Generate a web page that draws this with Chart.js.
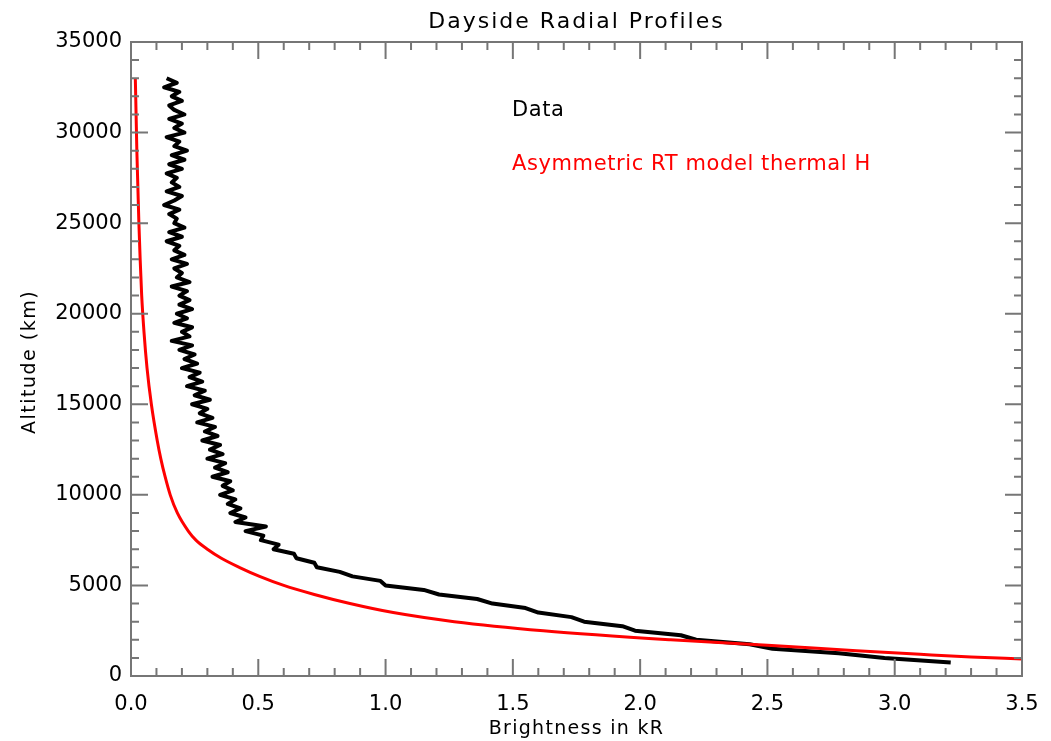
<!DOCTYPE html>
<html>
<head>
<meta charset="utf-8">
<script src="https://cdn.jsdelivr.net/npm/chart.js@4"></script>
<style>
  html, body { margin: 0; padding: 0; background: #fff; }
  #wrap { width: 1051px; height: 741px; }
</style>
</head>
<body>
<div id="wrap"><canvas id="myChart" width="1051" height="741"></canvas></div>
<script>
// Data profile (altitude in km, brightness in kR)
const dataAltitude = [33000,32750,32500,32250,32000,31750,31500,31250,31000,30750,
  30500,30250,30000,29750,29500,29250,29000,28750,28500,28250,
  28000,27750,27500,27250,27000,26750,26500,26250,26000,25750,
  25500,25250,25000,24750,24500,24250,24000,23750,23500,23250,
  23000,22750,22500,22250,22000,21750,21500,21250,21000,20750,
  20500,20250,20000,19750,19500,19250,19000,18750,18500,18250,
  18000,17750,17500,17250,17000,16750,16500,16250,16000,15750,
  15500,15250,15000,14750,14500,14250,14000,13750,13500,13250,
  13000,12750,12500,12250,12000,11750,11500,11250,11000,10750,
  10500,10250,10000,9750,9500,9250,9000,8750,8500,8250,
  8000,7750,7500,7250,7000,6750,6500,6250,6000,5750,
  5500,5250,5000,4750,4500,4250,4000,3750,3500,3250,
  3000,2750,2500,2250,2000,1750,1500,1250,1000,750];
const dataBrightness = [0.14,0.18,0.13,0.19,0.16,0.20,0.15,0.17,0.21,0.15,
  0.20,0.17,0.21,0.14,0.19,0.17,0.22,0.16,0.21,0.15,
  0.20,0.14,0.18,0.16,0.19,0.14,0.20,0.17,0.13,0.19,
  0.15,0.18,0.17,0.21,0.15,0.20,0.14,0.19,0.17,0.21,
  0.16,0.22,0.17,0.20,0.18,0.23,0.16,0.22,0.19,0.23,
  0.19,0.24,0.18,0.22,0.17,0.24,0.20,0.23,0.16,0.24,
  0.19,0.25,0.21,0.26,0.20,0.27,0.23,0.28,0.22,0.29,
  0.25,0.31,0.24,0.30,0.27,0.32,0.26,0.33,0.29,0.34,
  0.28,0.35,0.31,0.36,0.30,0.37,0.33,0.38,0.32,0.39,
  0.36,0.40,0.35,0.41,0.38,0.43,0.39,0.45,0.41,0.53,
  0.45,0.52,0.51,0.58,0.56,0.64,0.65,0.72,0.73,0.82,
  0.87,0.98,1.00,1.15,1.21,1.36,1.42,1.55,1.60,1.73,
  1.78,1.93,1.98,2.16,2.22,2.43,2.52,2.78,2.96,3.22];

// Asymmetric RT model thermal H
const modelAltitude = [33000,31000,29000,27000,25000,23000,21000,19000,17000,15000,
  13000,12000,11000,10000,9000,8000,7500,7000,6500,6000,
  5500,5000,4500,4000,3500,3000,2500,2000,1700,1400,
  1200,1050,940];
const modelBrightness = [0.017,0.020,0.023,0.027,0.031,0.036,0.042,0.051,0.063,0.080,
  0.103,0.117,0.134,0.154,0.182,0.225,0.255,0.300,0.355,0.425,
  0.505,0.600,0.72,0.86,1.03,1.27,1.62,2.12,2.50,2.85,
  3.10,3.30,3.50];

const seriesNames = ["Data", "Asymmetric RT model thermal H"];
const xTickLabels = ["0.0","0.5","1.0","1.5","2.0","2.5","3.0","3.5"];
const yTickLabels = ["0","5000","10000","15000","20000","25000","30000","35000"];

const FONT = "'DejaVu Sans'";
const AXIS_GREY = "#767676";

// frame + inward ticks on all four sides, IDL style
const frameTicks = {
  id: "frameTicks",
  afterDatasetsDraw(chart) {
    const ctx = chart.ctx, a = chart.chartArea;
    const xs = chart.scales.x, ys = chart.scales.y;
    ctx.save();
    ctx.strokeStyle = AXIS_GREY;
    ctx.lineWidth = 2;
    ctx.strokeRect(a.left, a.top, a.right - a.left, a.bottom - a.top);
    ctx.beginPath();
    for (let i = 0; i <= 35; i++) {
      const px = xs.getPixelForValue(i * 0.1);
      const len = i % 5 === 0 ? 17 : 8;
      ctx.moveTo(px, a.bottom); ctx.lineTo(px, a.bottom - len);
      ctx.moveTo(px, a.top); ctx.lineTo(px, a.top + len);
    }
    for (let i = 0; i <= 35; i++) {
      const py = ys.getPixelForValue(i * 1000);
      const len = i % 5 === 0 ? 17 : 8;
      ctx.moveTo(a.left, py); ctx.lineTo(a.left + len, py);
      ctx.moveTo(a.right, py); ctx.lineTo(a.right - len, py);
    }
    ctx.stroke();
    ctx.restore();
  },
  afterDraw(chart) {
    const ctx = chart.ctx, a = chart.chartArea;
    const cx = (a.left + a.right) / 2;
    ctx.save();
    ctx.textBaseline = "alphabetic";
    // title
    ctx.fillStyle = "#000";
    ctx.font = "22px " + FONT;
    ctx.letterSpacing = "2px";
    ctx.textAlign = "center";
    ctx.fillText("Dayside Radial Profiles", cx, 28);
    // x title
    ctx.font = "19px " + FONT;
    ctx.letterSpacing = "1.3px";
    ctx.fillText("Brightness in kR", cx, 734);
    // y title
    ctx.save();
    ctx.translate(35, 362);
    ctx.rotate(-Math.PI / 2);
    ctx.letterSpacing = "1.5px";
    ctx.fillText("Altitude (km)", 0, 0);
    ctx.restore();
    // legend labels
    ctx.textAlign = "left";
    ctx.font = "21px " + FONT;
    ctx.letterSpacing = "0.6px";
    ctx.fillStyle = "#000";
    ctx.fillText(seriesNames[0], 512, 116);
    ctx.fillStyle = "#ff0000";
    ctx.fillText(seriesNames[1], 512, 170);
    ctx.restore();
  }
};

const config = {
  type: "scatter",
  data: {
    datasets: [
      {
        label: seriesNames[1],
        data: modelAltitude.map((alt, i) => ({ x: modelBrightness[i], y: alt })),
        showLine: true,
        borderColor: "#ff0000",
        borderWidth: 3,
        pointRadius: 0,
        cubicInterpolationMode: "monotone",
        fill: false
      },
      {
        label: seriesNames[0],
        data: dataAltitude.map((alt, i) => ({ x: dataBrightness[i], y: alt })),
        showLine: true,
        borderColor: "#000000",
        borderWidth: 4,
        borderJoinStyle: "round",
        pointRadius: 0,
        fill: false
      }
    ]
  },
  options: {
    responsive: false,
    animation: false,
    layout: { padding: { left: 0, right: 29, top: 42, bottom: 0 } },
    plugins: { legend: { display: false }, tooltip: { enabled: false }, title: { display: false } },
    scales: {
      x: {
        type: "linear",
        min: 0, max: 3.5,
        grid: { display: false, drawTicks: false },
        border: { display: false },
        ticks: {
          stepSize: 0.5,
          padding: 16,
          color: "#000",
          font: { family: FONT, size: 21 },
          maxRotation: 0,
          callback: (v) => xTickLabels[Math.round(v / 0.5)]
        },
        afterFit: (s) => { s.height = 65; s.paddingLeft = 0; s.paddingRight = 0; }
      },
      y: {
        type: "linear",
        min: 0, max: 35000,
        grid: { display: false, drawTicks: false },
        border: { display: false },
        ticks: {
          stepSize: 5000,
          padding: 9,
          color: "#000",
          font: { family: FONT, size: 21 },
          callback: (v) => yTickLabels[Math.round(v / 5000)]
        },
        afterFit: (s) => { s.width = 131; }
      }
    }
  },
  plugins: [frameTicks]
};

const context = document.getElementById("myChart");
let myChart = new Chart(context, config);
</script>
</body>
</html>
